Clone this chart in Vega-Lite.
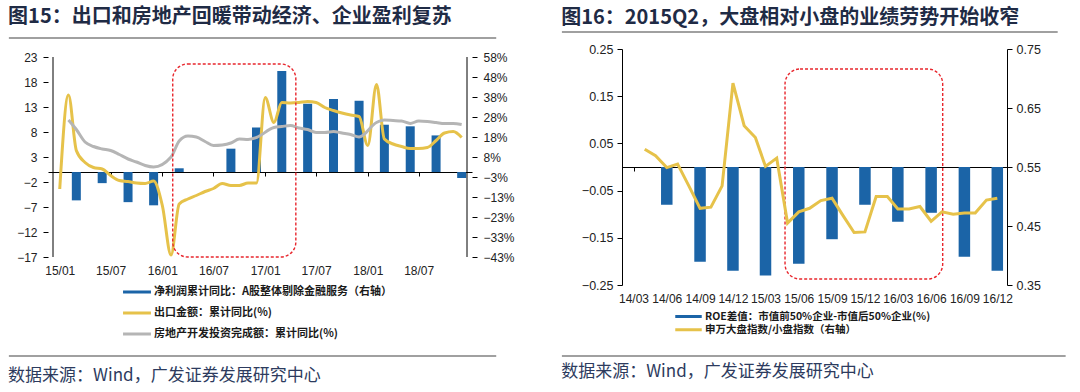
{
  "$schema": "https://vega.github.io/schema/vega-lite/v6.json",
  "padding": {"left": 8, "top": 7, "right": 0, "bottom": 4},
  "spacing": 46,
  "resolve": {"scale": {"x": "independent", "y": "independent", "color": "independent"}, "legend": {"color": "independent"}, "axis": {"x": "independent", "y": "independent"}},
  "config": {
    "view": {"stroke": null},
    "axis": {"labelOverlap": false, "labelFlush": false, "grid": false, "title": null, "domainColor": "#000000", "tickColor": "#000000", "labelFont": "Liberation Sans", "labelColor": "#222222"},
    "title": {"font": "Noto Sans CJK SC", "fontWeight": "bold", "fontSize": 20, "color": "#1f2b45"}
  },
  "hconcat": [
    {
      "title": {"text": "数据来源：Wind，广发证券发展研究中心", "orient": "bottom", "anchor": "start", "frame": "bounds", "font": "Noto Sans CJK SC", "fontSize": 17, "fontWeight": "normal", "color": "#2d3b5e", "offset": 11},
      "vconcat": [
        {
          "width": 424,
          "height": 208,
          "title": {"text": "图15：出口和房地产回暖带动经济、企业盈利复苏", "anchor": "start", "orient": "top", "frame": "bounds", "offset": 10},
          "resolve": {"scale": {"y": "independent"}},
          "layer": [
            {
              "data": {"values": [
                {"date": "2015-03-01", "profit_yoy": -14.3},
                {"date": "2015-06-01", "profit_yoy": -5.6},
                {"date": "2015-09-01", "profit_yoy": -15.2},
                {"date": "2015-12-01", "profit_yoy": -16.8},
                {"date": "2016-03-01", "profit_yoy": 1.9},
                {"date": "2016-09-01", "profit_yoy": 11.8},
                {"date": "2016-12-01", "profit_yoy": 22.5},
                {"date": "2017-03-01", "profit_yoy": 51.0},
                {"date": "2017-06-01", "profit_yoy": 34.5},
                {"date": "2017-09-01", "profit_yoy": 36.9},
                {"date": "2017-12-01", "profit_yoy": 36.0},
                {"date": "2018-03-01", "profit_yoy": 23.9},
                {"date": "2018-06-01", "profit_yoy": 23.1},
                {"date": "2018-09-01", "profit_yoy": 18.5},
                {"date": "2018-12-01", "profit_yoy": -3.0}
              ]},
              "mark": {"type": "bar", "size": 9},
              "encoding": {
                "x": {"field": "date", "type": "temporal",
                  "scale": {"domain": [{"year": 2014, "month": 12, "date": 8}, {"year": 2018, "month": 12, "date": 20}]},
                  "axis": {"title": null, "values": [{"year": 2015, "month": 1, "date": 1}, {"year": 2015, "month": 7, "date": 1}, {"year": 2016, "month": 1, "date": 1}, {"year": 2016, "month": 7, "date": 1}, {"year": 2017, "month": 1, "date": 1}, {"year": 2017, "month": 7, "date": 1}, {"year": 2018, "month": 1, "date": 1}, {"year": 2018, "month": 7, "date": 1}], "format": "%y/%m", "offset": -85, "domainWidth": 1, "tickSize": 4, "labelPadding": 89, "labelFontSize": 12, "labelOverlap": false}},
                "y": {"field": "profit_yoy", "type": "quantitative",
                  "scale": {"domain": [-42.9, 62.14], "nice": false},
                  "axis": {"title": null, "orient": "right", "domain": false, "values": [-42.9, -32.8, -22.7, -12.6, -2.6, 7.6, 17.7, 27.8, 37.9, 48, 58.1], "labelExpr": "format(datum.value, '.0f') + '%'", "tickSize": 5, "labelPadding": 6, "labelFontSize": 12, "labelOverlap": false}},
                "color": {"datum": "净利润累计同比：A股整体剔除金融服务（右轴）", "type": "nominal",
                  "scale": {"domain": ["净利润累计同比：A股整体剔除金融服务（右轴）", "出口金额：累计同比(%)", "房地产开发投资完成额：累计同比(%)"], "range": ["#1b64a7", "#e6c24a", "#b5b5b5"]},
                  "legend": {"title": null, "orient": "none", "legendX": 82, "legendY": 236, "direction": "vertical", "symbolType": "M-2.2,-0.14L2.2,-0.14L2.2,0.14L-2.2,0.14Z", "symbolSize": 144, "symbolStrokeWidth": 1.5, "labelFont": "Noto Sans CJK SC", "labelFontSize": 11, "labelFontWeight": "bold", "labelColor": "#1a1a1a", "rowPadding": 9, "labelOffset": 10, "labelLimit": 500, "padding": 0}}
              }
            },
            {
              "layer": [
                {
                  "data": {"values": [
                    {"date": "2015-01-01", "export_yoy": -3.4}, {"date": "2015-02-01", "export_yoy": 15.4}, {"date": "2015-03-01", "export_yoy": 4.3}, {"date": "2015-04-01", "export_yoy": 1.9},
                    {"date": "2015-05-01", "export_yoy": 0.9}, {"date": "2015-06-01", "export_yoy": 0.6}, {"date": "2015-07-01", "export_yoy": -0.7}, {"date": "2015-08-01", "export_yoy": -1.7},
                    {"date": "2015-09-01", "export_yoy": -1.9}, {"date": "2015-10-01", "export_yoy": -2.2}, {"date": "2015-11-01", "export_yoy": -2.3}, {"date": "2015-12-01", "export_yoy": -1.8},
                    {"date": "2016-01-01", "export_yoy": -6.7}, {"date": "2016-02-01", "export_yoy": -16.6}, {"date": "2016-03-01", "export_yoy": -6.4}, {"date": "2016-04-01", "export_yoy": -5.4},
                    {"date": "2016-05-01", "export_yoy": -4.7}, {"date": "2016-06-01", "export_yoy": -3.9}, {"date": "2016-07-01", "export_yoy": -3.3}, {"date": "2016-08-01", "export_yoy": -2.3},
                    {"date": "2016-09-01", "export_yoy": -2.7}, {"date": "2016-10-01", "export_yoy": -2.7}, {"date": "2016-11-01", "export_yoy": -2.2}, {"date": "2016-12-01", "export_yoy": -2.2},
                    {"date": "2017-01-01", "export_yoy": 14.9}, {"date": "2017-02-01", "export_yoy": 9.9}, {"date": "2017-03-01", "export_yoy": 13.9}, {"date": "2017-04-01", "export_yoy": 13.8},
                    {"date": "2017-05-01", "export_yoy": 13.9}, {"date": "2017-06-01", "export_yoy": 14.1}, {"date": "2017-07-01", "export_yoy": 13.9}, {"date": "2017-08-01", "export_yoy": 12.9},
                    {"date": "2017-09-01", "export_yoy": 12.3}, {"date": "2017-10-01", "export_yoy": 11.8}, {"date": "2017-11-01", "export_yoy": 11.4}, {"date": "2017-12-01", "export_yoy": 11.1},
                    {"date": "2018-01-01", "export_yoy": 5.3}, {"date": "2018-02-01", "export_yoy": 17.5}, {"date": "2018-03-01", "export_yoy": 6.6}, {"date": "2018-04-01", "export_yoy": 5.6},
                    {"date": "2018-05-01", "export_yoy": 5.1}, {"date": "2018-06-01", "export_yoy": 4.7}, {"date": "2018-07-01", "export_yoy": 4.7}, {"date": "2018-08-01", "export_yoy": 4.9},
                    {"date": "2018-09-01", "export_yoy": 6.3}, {"date": "2018-10-01", "export_yoy": 7.8}, {"date": "2018-11-01", "export_yoy": 8.1}, {"date": "2018-12-01", "export_yoy": 6.9}
                  ]},
                  "mark": {"type": "line", "interpolate": "monotone", "strokeWidth": 3},
                  "encoding": {
                    "x": {"field": "date", "type": "temporal",
                      "scale": {"domain": [{"year": 2014, "month": 12, "date": 8}, {"year": 2018, "month": 12, "date": 20}]},
                      "axis": {"title": null, "values": [{"year": 2015, "month": 1, "date": 1}, {"year": 2015, "month": 7, "date": 1}, {"year": 2016, "month": 1, "date": 1}, {"year": 2016, "month": 7, "date": 1}, {"year": 2017, "month": 1, "date": 1}, {"year": 2017, "month": 7, "date": 1}, {"year": 2018, "month": 1, "date": 1}, {"year": 2018, "month": 7, "date": 1}], "format": "%y/%m", "offset": -85, "domainWidth": 1, "tickSize": 4, "labelPadding": 89, "labelFontSize": 12, "labelOverlap": false}},
                    "y": {"field": "export_yoy", "type": "quantitative", "scale": {"domain": [-17, 24.6], "nice": false},
                      "axis": {"title": null, "orient": "left", "domain": false, "values": [-17, -12, -7, -2, 3, 8, 13, 18, 23], "tickSize": 5, "labelPadding": 6, "labelFontSize": 12, "labelOverlap": false}},
                    "color": {"datum": "出口金额：累计同比(%)", "type": "nominal"}
                  }
                },
                {
                  "data": {"values": [
                    {"date": "2015-02-01", "invest_yoy": 10.4}, {"date": "2015-03-01", "invest_yoy": 8.5}, {"date": "2015-04-01", "invest_yoy": 6.0}, {"date": "2015-05-01", "invest_yoy": 5.1},
                    {"date": "2015-06-01", "invest_yoy": 4.6}, {"date": "2015-07-01", "invest_yoy": 4.3}, {"date": "2015-08-01", "invest_yoy": 3.5}, {"date": "2015-09-01", "invest_yoy": 2.6},
                    {"date": "2015-10-01", "invest_yoy": 2.0}, {"date": "2015-11-01", "invest_yoy": 1.3}, {"date": "2015-12-01", "invest_yoy": 1.0},
                    {"date": "2016-02-01", "invest_yoy": 3.0}, {"date": "2016-03-01", "invest_yoy": 6.2}, {"date": "2016-04-01", "invest_yoy": 7.2}, {"date": "2016-05-01", "invest_yoy": 7.0},
                    {"date": "2016-06-01", "invest_yoy": 6.1}, {"date": "2016-07-01", "invest_yoy": 5.3}, {"date": "2016-08-01", "invest_yoy": 5.4}, {"date": "2016-09-01", "invest_yoy": 5.8},
                    {"date": "2016-10-01", "invest_yoy": 6.6}, {"date": "2016-11-01", "invest_yoy": 6.5}, {"date": "2016-12-01", "invest_yoy": 6.9},
                    {"date": "2017-02-01", "invest_yoy": 8.9}, {"date": "2017-03-01", "invest_yoy": 9.1}, {"date": "2017-04-01", "invest_yoy": 9.3}, {"date": "2017-05-01", "invest_yoy": 8.8},
                    {"date": "2017-06-01", "invest_yoy": 8.5}, {"date": "2017-07-01", "invest_yoy": 7.9}, {"date": "2017-08-01", "invest_yoy": 7.9}, {"date": "2017-09-01", "invest_yoy": 8.1},
                    {"date": "2017-10-01", "invest_yoy": 7.8}, {"date": "2017-11-01", "invest_yoy": 7.5}, {"date": "2017-12-01", "invest_yoy": 7.0},
                    {"date": "2018-02-01", "invest_yoy": 9.9}, {"date": "2018-03-01", "invest_yoy": 10.4}, {"date": "2018-04-01", "invest_yoy": 10.3}, {"date": "2018-05-01", "invest_yoy": 10.2},
                    {"date": "2018-06-01", "invest_yoy": 9.7}, {"date": "2018-07-01", "invest_yoy": 10.2}, {"date": "2018-08-01", "invest_yoy": 10.1}, {"date": "2018-09-01", "invest_yoy": 9.9},
                    {"date": "2018-10-01", "invest_yoy": 9.7}, {"date": "2018-11-01", "invest_yoy": 9.7}, {"date": "2018-12-01", "invest_yoy": 9.5}
                  ]},
                  "mark": {"type": "line", "interpolate": "monotone", "strokeWidth": 3},
                  "encoding": {
                    "x": {"field": "date", "type": "temporal",
                      "scale": {"domain": [{"year": 2014, "month": 12, "date": 8}, {"year": 2018, "month": 12, "date": 20}]},
                      "axis": {"title": null, "values": [{"year": 2015, "month": 1, "date": 1}, {"year": 2015, "month": 7, "date": 1}, {"year": 2016, "month": 1, "date": 1}, {"year": 2016, "month": 7, "date": 1}, {"year": 2017, "month": 1, "date": 1}, {"year": 2017, "month": 7, "date": 1}, {"year": 2018, "month": 1, "date": 1}, {"year": 2018, "month": 7, "date": 1}], "format": "%y/%m", "offset": -85, "domainWidth": 1, "tickSize": 4, "labelPadding": 89, "labelFontSize": 12, "labelOverlap": false}},
                    "y": {"field": "invest_yoy", "type": "quantitative", "scale": {"domain": [-17, 24.6], "nice": false},
                      "axis": {"title": null, "orient": "left", "domain": false, "values": [-17, -12, -7, -2, 3, 8, 13, 18, 23], "tickSize": 5, "labelPadding": 6, "labelFontSize": 12, "labelOverlap": false}},
                    "color": {"datum": "房地产开发投资完成额：累计同比(%)", "type": "nominal"}
                  }
                },
                {
                  "data": {"values": [{}]},
                  "mark": {"type": "rule", "color": "#000000", "strokeWidth": 1},
                  "encoding": {
                    "x": {"datum": {"year": 2014, "month": 12, "date": 8}, "type": "temporal",
                      "scale": {"domain": [{"year": 2014, "month": 12, "date": 8}, {"year": 2018, "month": 12, "date": 20}]},
                      "axis": {"title": null, "values": [{"year": 2015, "month": 1, "date": 1}, {"year": 2015, "month": 7, "date": 1}, {"year": 2016, "month": 1, "date": 1}, {"year": 2016, "month": 7, "date": 1}, {"year": 2017, "month": 1, "date": 1}, {"year": 2017, "month": 7, "date": 1}, {"year": 2018, "month": 1, "date": 1}, {"year": 2018, "month": 7, "date": 1}], "format": "%y/%m", "offset": -85, "domainWidth": 1, "tickSize": 4, "labelPadding": 89, "labelFontSize": 12, "labelOverlap": false}},
                    "y": {"datum": -17, "type": "quantitative", "scale": {"domain": [-17, 24.6], "nice": false},
                      "axis": {"title": null, "orient": "left", "domain": false, "values": [-17, -12, -7, -2, 3, 8, 13, 18, 23], "tickSize": 5, "labelPadding": 6, "labelFontSize": 12, "labelOverlap": false}},
                    "y2": {"datum": 23}
                  }
                },
                {
                  "data": {"values": [{}]},
                  "mark": {"type": "rule", "color": "#000000", "strokeWidth": 1},
                  "encoding": {
                    "x": {"datum": {"year": 2018, "month": 12, "date": 20}, "type": "temporal",
                      "scale": {"domain": [{"year": 2014, "month": 12, "date": 8}, {"year": 2018, "month": 12, "date": 20}]},
                      "axis": {"title": null, "values": [{"year": 2015, "month": 1, "date": 1}, {"year": 2015, "month": 7, "date": 1}, {"year": 2016, "month": 1, "date": 1}, {"year": 2016, "month": 7, "date": 1}, {"year": 2017, "month": 1, "date": 1}, {"year": 2017, "month": 7, "date": 1}, {"year": 2018, "month": 1, "date": 1}, {"year": 2018, "month": 7, "date": 1}], "format": "%y/%m", "offset": -85, "domainWidth": 1, "tickSize": 4, "labelPadding": 89, "labelFontSize": 12, "labelOverlap": false}},
                    "y": {"datum": -17, "type": "quantitative", "scale": {"domain": [-17, 24.6], "nice": false},
                      "axis": {"title": null, "orient": "left", "domain": false, "values": [-17, -12, -7, -2, 3, 8, 13, 18, 23], "tickSize": 5, "labelPadding": 6, "labelFontSize": 12, "labelOverlap": false}},
                    "y2": {"datum": 23}
                  }
                },
                {
                  "data": {"values": [{}]},
                  "mark": {"type": "rule", "color": "#808080", "strokeWidth": 1.5},
                  "encoding": {
                    "x": {"datum": {"year": 2014, "month": 7, "date": 4}, "type": "temporal",
                      "scale": {"domain": [{"year": 2014, "month": 12, "date": 8}, {"year": 2018, "month": 12, "date": 20}]},
                      "axis": {"title": null, "values": [{"year": 2015, "month": 1, "date": 1}, {"year": 2015, "month": 7, "date": 1}, {"year": 2016, "month": 1, "date": 1}, {"year": 2016, "month": 7, "date": 1}, {"year": 2017, "month": 1, "date": 1}, {"year": 2017, "month": 7, "date": 1}, {"year": 2018, "month": 1, "date": 1}, {"year": 2018, "month": 7, "date": 1}], "format": "%y/%m", "offset": -85, "domainWidth": 1, "tickSize": 4, "labelPadding": 89, "labelFontSize": 12, "labelOverlap": false}},
                    "x2": {"datum": {"year": 2019, "month": 4, "date": 3}},
                    "y": {"datum": 26.8, "type": "quantitative", "scale": {"domain": [-17, 24.6], "nice": false},
                      "axis": {"title": null, "orient": "left", "domain": false, "values": [-17, -12, -7, -2, 3, 8, 13, 18, 23], "tickSize": 5, "labelPadding": 6, "labelFontSize": 12, "labelOverlap": false}}
                  }
                },
                {
                  "data": {"values": [{}]},
                  "mark": {"type": "rule", "color": "#808080", "strokeWidth": 1.5},
                  "encoding": {
                    "x": {"datum": {"year": 2014, "month": 7, "date": 4}, "type": "temporal",
                      "scale": {"domain": [{"year": 2014, "month": 12, "date": 8}, {"year": 2018, "month": 12, "date": 20}]},
                      "axis": {"title": null, "values": [{"year": 2015, "month": 1, "date": 1}, {"year": 2015, "month": 7, "date": 1}, {"year": 2016, "month": 1, "date": 1}, {"year": 2016, "month": 7, "date": 1}, {"year": 2017, "month": 1, "date": 1}, {"year": 2017, "month": 7, "date": 1}, {"year": 2018, "month": 1, "date": 1}, {"year": 2018, "month": 7, "date": 1}], "format": "%y/%m", "offset": -85, "domainWidth": 1, "tickSize": 4, "labelPadding": 89, "labelFontSize": 12, "labelOverlap": false}},
                    "x2": {"datum": {"year": 2019, "month": 4, "date": 3}},
                    "y": {"datum": -36.8, "type": "quantitative", "scale": {"domain": [-17, 24.6], "nice": false},
                      "axis": {"title": null, "orient": "left", "domain": false, "values": [-17, -12, -7, -2, 3, 8, 13, 18, 23], "tickSize": 5, "labelPadding": 6, "labelFontSize": 12, "labelOverlap": false}}
                  }
                },
                {
                  "data": {"values": [{}]},
                  "mark": {"type": "rect", "fillOpacity": 0, "stroke": "#e8262d", "strokeDash": [3, 2], "strokeWidth": 1.4, "cornerRadius": 15},
                  "encoding": {
                    "x": {"datum": {"year": 2016, "month": 2, "date": 7}, "type": "temporal",
                      "scale": {"domain": [{"year": 2014, "month": 12, "date": 8}, {"year": 2018, "month": 12, "date": 20}]},
                      "axis": {"title": null, "values": [{"year": 2015, "month": 1, "date": 1}, {"year": 2015, "month": 7, "date": 1}, {"year": 2016, "month": 1, "date": 1}, {"year": 2016, "month": 7, "date": 1}, {"year": 2017, "month": 1, "date": 1}, {"year": 2017, "month": 7, "date": 1}, {"year": 2018, "month": 1, "date": 1}, {"year": 2018, "month": 7, "date": 1}], "format": "%y/%m", "offset": -85, "domainWidth": 1, "tickSize": 4, "labelPadding": 89, "labelFontSize": 12, "labelOverlap": false}},
                    "x2": {"datum": {"year": 2017, "month": 4, "date": 20}},
                    "y": {"datum": 21.6, "type": "quantitative", "scale": {"domain": [-17, 24.6], "nice": false},
                      "axis": {"title": null, "orient": "left", "domain": false, "values": [-17, -12, -7, -2, 3, 8, 13, 18, 23], "tickSize": 5, "labelPadding": 6, "labelFontSize": 12, "labelOverlap": false}},
                    "y2": {"datum": -17}
                  }
                }
              ]
            }
          ]
        }
      ]
    },
    {
      "title": {"text": "数据来源：Wind，广发证券发展研究中心", "orient": "bottom", "anchor": "start", "frame": "bounds", "font": "Noto Sans CJK SC", "fontSize": 17, "fontWeight": "normal", "color": "#2d3b5e", "offset": 7},
      "vconcat": [
        {
          "width": 385,
          "height": 236,
          "title": {"text": "图16：2015Q2，大盘相对小盘的业绩劳势开始收窄", "anchor": "start", "orient": "top", "frame": "bounds", "offset": 3},
          "resolve": {"scale": {"y": "independent"}},
          "layer": [
            {
              "layer": [
                {
                  "data": {"values": [
                    {"date": "2014-06-01", "roe_gap": -0.080}, {"date": "2014-09-01", "roe_gap": -0.201}, {"date": "2014-12-01", "roe_gap": -0.220},
                    {"date": "2015-03-01", "roe_gap": -0.230}, {"date": "2015-06-01", "roe_gap": -0.205}, {"date": "2015-09-01", "roe_gap": -0.153},
                    {"date": "2015-12-01", "roe_gap": -0.080}, {"date": "2016-03-01", "roe_gap": -0.116}, {"date": "2016-06-01", "roe_gap": -0.097},
                    {"date": "2016-09-01", "roe_gap": -0.190}, {"date": "2016-12-01", "roe_gap": -0.220}
                  ]},
                  "mark": {"type": "bar", "size": 11.5},
                  "encoding": {
                    "x": {"field": "date", "type": "temporal",
                      "scale": {"domain": [{"year": 2014, "month": 2, "date": 11}, {"year": 2016, "month": 12, "date": 14}]},
                      "axis": {"title": null, "values": [{"year": 2014, "month": 3, "date": 1}, {"year": 2014, "month": 6, "date": 1}, {"year": 2014, "month": 9, "date": 1}, {"year": 2014, "month": 12, "date": 1}, {"year": 2015, "month": 3, "date": 1}, {"year": 2015, "month": 6, "date": 1}, {"year": 2015, "month": 9, "date": 1}, {"year": 2015, "month": 12, "date": 1}, {"year": 2016, "month": 3, "date": 1}, {"year": 2016, "month": 6, "date": 1}, {"year": 2016, "month": 9, "date": 1}, {"year": 2016, "month": 12, "date": 1}], "format": "%y/%m", "offset": -118, "domainWidth": 1, "tickSize": 4, "labelPadding": 122, "labelFontSize": 12, "labelOverlap": false}},
                    "y": {"field": "roe_gap", "type": "quantitative", "scale": {"domain": [-0.25, 0.25], "nice": false},
                      "axis": {"title": null, "orient": "left", "values": [-0.25, -0.15, -0.05, 0.05, 0.15, 0.25], "format": ".2f", "tickSize": 5, "labelPadding": 4, "labelFontSize": 12.5, "labelOverlap": false}},
                    "color": {"datum": "ROE差值：市值前50%企业-市值后50%企业(%)", "type": "nominal",
                      "scale": {"domain": ["ROE差值：市值前50%企业-市值后50%企业(%)", "申万大盘指数/小盘指数（右轴）"], "range": ["#1b64a7", "#e6c24a"]},
                      "legend": {"title": null, "orient": "none", "legendX": 60, "legendY": 261, "direction": "vertical", "symbolType": "M-2.27,-0.15L2.27,-0.15L2.27,0.15L-2.27,0.15Z", "symbolSize": 121, "symbolStrokeWidth": 1.5, "labelFont": "Noto Sans CJK SC", "labelFontSize": 10.5, "labelFontWeight": "bold", "labelColor": "#1a1a1a", "rowPadding": 1.3, "labelOffset": 10, "labelLimit": 500, "padding": 0}}
                  }
                },
                {
                  "data": {"values": [{}]},
                  "mark": {"type": "rule", "color": "#808080", "strokeWidth": 1.5},
                  "encoding": {
                    "x": {"datum": {"year": 2013, "month": 8, "date": 15}, "type": "temporal",
                      "scale": {"domain": [{"year": 2014, "month": 2, "date": 11}, {"year": 2016, "month": 12, "date": 14}]},
                      "axis": {"title": null, "values": [{"year": 2014, "month": 3, "date": 1}, {"year": 2014, "month": 6, "date": 1}, {"year": 2014, "month": 9, "date": 1}, {"year": 2014, "month": 12, "date": 1}, {"year": 2015, "month": 3, "date": 1}, {"year": 2015, "month": 6, "date": 1}, {"year": 2015, "month": 9, "date": 1}, {"year": 2015, "month": 12, "date": 1}, {"year": 2016, "month": 3, "date": 1}, {"year": 2016, "month": 6, "date": 1}, {"year": 2016, "month": 9, "date": 1}, {"year": 2016, "month": 12, "date": 1}], "format": "%y/%m", "offset": -118, "domainWidth": 1, "tickSize": 4, "labelPadding": 122, "labelFontSize": 12, "labelOverlap": false}},
                    "x2": {"datum": {"year": 2017, "month": 5, "date": 17}},
                    "y": {"datum": 0.286, "type": "quantitative", "scale": {"domain": [-0.25, 0.25], "nice": false},
                      "axis": {"title": null, "orient": "left", "values": [-0.25, -0.15, -0.05, 0.05, 0.15, 0.25], "format": ".2f", "tickSize": 5, "labelPadding": 4, "labelFontSize": 12.5, "labelOverlap": false}}
                  }
                },
                {
                  "data": {"values": [{}]},
                  "mark": {"type": "rule", "color": "#808080", "strokeWidth": 1.5},
                  "encoding": {
                    "x": {"datum": {"year": 2013, "month": 8, "date": 15}, "type": "temporal",
                      "scale": {"domain": [{"year": 2014, "month": 2, "date": 11}, {"year": 2016, "month": 12, "date": 14}]},
                      "axis": {"title": null, "values": [{"year": 2014, "month": 3, "date": 1}, {"year": 2014, "month": 6, "date": 1}, {"year": 2014, "month": 9, "date": 1}, {"year": 2014, "month": 12, "date": 1}, {"year": 2015, "month": 3, "date": 1}, {"year": 2015, "month": 6, "date": 1}, {"year": 2015, "month": 9, "date": 1}, {"year": 2015, "month": 12, "date": 1}, {"year": 2016, "month": 3, "date": 1}, {"year": 2016, "month": 6, "date": 1}, {"year": 2016, "month": 9, "date": 1}, {"year": 2016, "month": 12, "date": 1}], "format": "%y/%m", "offset": -118, "domainWidth": 1, "tickSize": 4, "labelPadding": 122, "labelFontSize": 12, "labelOverlap": false}},
                    "x2": {"datum": {"year": 2017, "month": 6, "date": 8}},
                    "y": {"datum": -0.4004, "type": "quantitative", "scale": {"domain": [-0.25, 0.25], "nice": false},
                      "axis": {"title": null, "orient": "left", "values": [-0.25, -0.15, -0.05, 0.05, 0.15, 0.25], "format": ".2f", "tickSize": 5, "labelPadding": 4, "labelFontSize": 12.5, "labelOverlap": false}}
                  }
                },
                {
                  "data": {"values": [{}]},
                  "mark": {"type": "rect", "fillOpacity": 0, "stroke": "#e8262d", "strokeDash": [3, 2], "strokeWidth": 1.4, "cornerRadius": 15},
                  "encoding": {
                    "x": {"datum": {"year": 2015, "month": 4, "date": 24}, "type": "temporal",
                      "scale": {"domain": [{"year": 2014, "month": 2, "date": 11}, {"year": 2016, "month": 12, "date": 14}]},
                      "axis": {"title": null, "values": [{"year": 2014, "month": 3, "date": 1}, {"year": 2014, "month": 6, "date": 1}, {"year": 2014, "month": 9, "date": 1}, {"year": 2014, "month": 12, "date": 1}, {"year": 2015, "month": 3, "date": 1}, {"year": 2015, "month": 6, "date": 1}, {"year": 2015, "month": 9, "date": 1}, {"year": 2015, "month": 12, "date": 1}, {"year": 2016, "month": 3, "date": 1}, {"year": 2016, "month": 6, "date": 1}, {"year": 2016, "month": 9, "date": 1}, {"year": 2016, "month": 12, "date": 1}], "format": "%y/%m", "offset": -118, "domainWidth": 1, "tickSize": 4, "labelPadding": 122, "labelFontSize": 12, "labelOverlap": false}},
                    "x2": {"datum": {"year": 2016, "month": 7, "date": 3}},
                    "y": {"datum": 0.2076, "type": "quantitative", "scale": {"domain": [-0.25, 0.25], "nice": false},
                      "axis": {"title": null, "orient": "left", "values": [-0.25, -0.15, -0.05, 0.05, 0.15, 0.25], "format": ".2f", "tickSize": 5, "labelPadding": 4, "labelFontSize": 12.5, "labelOverlap": false}},
                    "y2": {"datum": -0.2373}
                  }
                }
              ]
            },
            {
              "data": {"values": [
                {"date": "2014-04-01", "ratio": 0.580}, {"date": "2014-05-01", "ratio": 0.569}, {"date": "2014-06-01", "ratio": 0.549}, {"date": "2014-07-01", "ratio": 0.555},
                {"date": "2014-08-01", "ratio": 0.518}, {"date": "2014-09-01", "ratio": 0.480}, {"date": "2014-10-01", "ratio": 0.482}, {"date": "2014-11-01", "ratio": 0.518},
                {"date": "2014-12-01", "ratio": 0.692}, {"date": "2015-01-01", "ratio": 0.620}, {"date": "2015-02-01", "ratio": 0.600}, {"date": "2015-03-01", "ratio": 0.551},
                {"date": "2015-04-01", "ratio": 0.565}, {"date": "2015-05-01", "ratio": 0.455}, {"date": "2015-06-01", "ratio": 0.474}, {"date": "2015-07-01", "ratio": 0.480},
                {"date": "2015-08-01", "ratio": 0.493}, {"date": "2015-09-01", "ratio": 0.497}, {"date": "2015-10-01", "ratio": 0.468}, {"date": "2015-11-01", "ratio": 0.439},
                {"date": "2015-12-01", "ratio": 0.440}, {"date": "2016-01-01", "ratio": 0.500}, {"date": "2016-02-01", "ratio": 0.500}, {"date": "2016-03-01", "ratio": 0.479},
                {"date": "2016-04-01", "ratio": 0.479}, {"date": "2016-05-01", "ratio": 0.483}, {"date": "2016-06-01", "ratio": 0.458}, {"date": "2016-07-01", "ratio": 0.474},
                {"date": "2016-08-01", "ratio": 0.470}, {"date": "2016-09-01", "ratio": 0.472}, {"date": "2016-10-01", "ratio": 0.472}, {"date": "2016-11-01", "ratio": 0.494},
                {"date": "2016-12-01", "ratio": 0.497}
              ]},
              "mark": {"type": "line", "strokeWidth": 3},
              "encoding": {
                "x": {"field": "date", "type": "temporal",
                  "scale": {"domain": [{"year": 2014, "month": 2, "date": 11}, {"year": 2016, "month": 12, "date": 14}]},
                  "axis": {"title": null, "values": [{"year": 2014, "month": 3, "date": 1}, {"year": 2014, "month": 6, "date": 1}, {"year": 2014, "month": 9, "date": 1}, {"year": 2014, "month": 12, "date": 1}, {"year": 2015, "month": 3, "date": 1}, {"year": 2015, "month": 6, "date": 1}, {"year": 2015, "month": 9, "date": 1}, {"year": 2015, "month": 12, "date": 1}, {"year": 2016, "month": 3, "date": 1}, {"year": 2016, "month": 6, "date": 1}, {"year": 2016, "month": 9, "date": 1}, {"year": 2016, "month": 12, "date": 1}], "format": "%y/%m", "offset": -118, "domainWidth": 1, "tickSize": 4, "labelPadding": 122, "labelFontSize": 12, "labelOverlap": false}},
                "y": {"field": "ratio", "type": "quantitative", "scale": {"domain": [0.35, 0.75], "nice": false, "zero": false},
                  "axis": {"title": null, "orient": "right", "values": [0.35, 0.45, 0.55, 0.65, 0.75], "format": ".2f", "tickSize": 5, "labelPadding": 4, "labelFontSize": 12.5, "labelOverlap": false}},
                "color": {"datum": "申万大盘指数/小盘指数（右轴）", "type": "nominal"}
              }
            }
          ]
        }
      ]
    }
  ]
}
